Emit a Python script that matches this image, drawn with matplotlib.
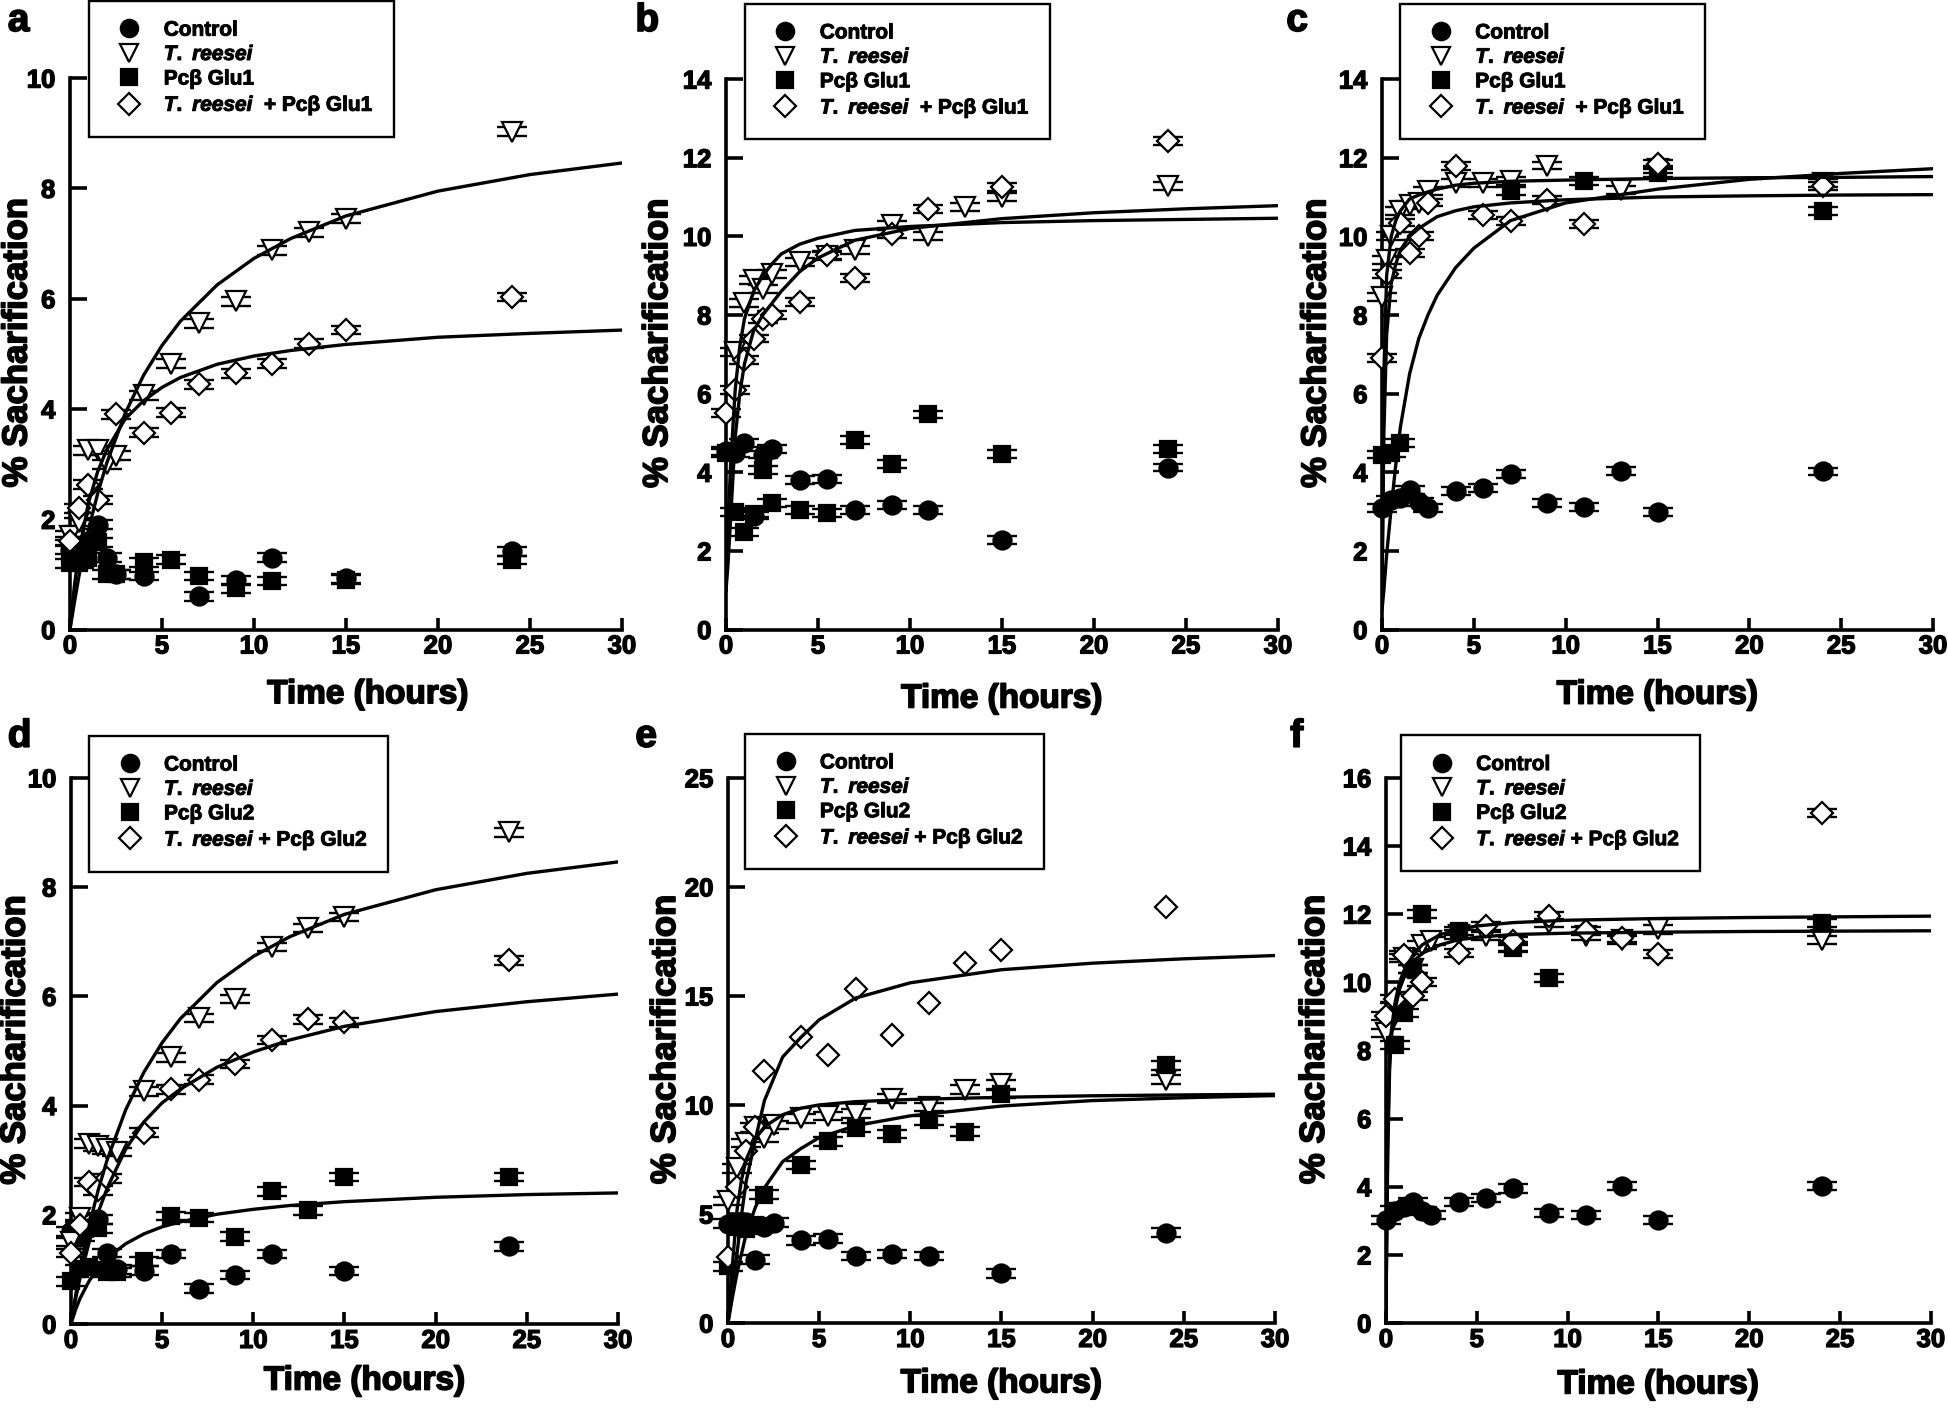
import matplotlib
matplotlib.use('Agg')
import matplotlib.pyplot as plt
import matplotlib.patheffects as pe
from matplotlib.lines import Line2D

plt.rcParams['font.family'] = ['Liberation Sans', 'DejaVu Sans']
plt.rcParams['font.weight'] = 'bold'
plt.rcParams['mathtext.fontset'] = 'custom'
plt.rcParams['mathtext.it'] = 'Liberation Sans:italic:bold'
plt.rcParams['mathtext.rm'] = 'Liberation Sans:bold'
plt.rcParams['mathtext.bf'] = 'Liberation Sans:bold'

# ---- panel a ----
a_ctrl_t = [0, 0.5, 1, 1.5, 2, 2.5, 4, 7, 9, 11, 15, 24]
a_ctrl_v = [1.45, 1.3, 1.6, 1.9, 1.3, 1.0, 0.97, 0.6, 0.89, 1.3, 0.93, 1.42]
a_tr_t = [0, 0.5, 1, 1.5, 2, 2.5, 4, 5.5, 7, 9, 11, 13, 15, 24]
a_tr_v = [1.7, 1.95, 3.25, 3.25, 3.0, 3.15, 4.25, 4.82, 5.55, 5.95, 6.88, 7.2, 7.45, 9.03]
a_glu_t = [0, 0.5, 1, 1.5, 2, 2.5, 4, 5.5, 7, 9, 11, 15, 24]
a_glu_v = [1.2, 1.2, 1.3, 1.58, 1.0, 1.0, 1.22, 1.27, 0.97, 0.75, 0.88, 0.9, 1.26]
a_mix_t = [0, 0.5, 1, 1.5, 2.5, 4, 5.5, 7, 9, 11, 13, 15, 24]
a_mix_v = [1.6, 2.2, 2.63, 2.35, 3.9, 3.57, 3.93, 4.45, 4.65, 4.82, 5.18, 5.43, 6.03]
ad_fit_t = [0, 0.25, 0.5, 1, 1.5, 2, 3, 4, 5, 6, 8, 10, 12, 15, 20, 25, 30]
a_fit_tr = [0, 0.51, 0.99, 1.8, 2.46, 3.02, 3.92, 4.61, 5.15, 5.59, 6.25, 6.73, 7.09, 7.5, 7.95, 8.25, 8.46]
a_fit_mix = [0, 0.82, 1.43, 2.29, 2.86, 3.26, 3.82, 4.15, 4.39, 4.57, 4.81, 4.96, 5.06, 5.17, 5.3, 5.37, 5.43]

# ---- panel b ----
b_ctrl_t = [0, 0.5, 1, 1.5, 2, 2.5, 4, 5.5, 7, 9, 11, 15, 24]
b_ctrl_v = [4.55, 4.5, 4.75, 2.9, 4.45, 4.6, 3.8, 3.82, 3.05, 3.17, 3.05, 2.28, 4.12]
b_tr_t = [0.5, 1, 1.5, 2, 2.5, 4, 5.5, 7, 9, 11, 13, 15, 24]
b_tr_v = [7.05, 8.3, 8.9, 8.65, 9.05, 9.35, 9.5, 9.65, 10.3, 10.0, 10.74, 11.0, 11.29]
b_glu_t = [0, 0.5, 1, 1.5, 2, 2.5, 4, 5.5, 7, 9, 11, 15, 24]
b_glu_v = [4.5, 3.0, 2.48, 2.95, 4.05, 3.22, 3.05, 2.97, 4.83, 4.2, 5.47, 4.47, 4.6]
b_mix_t = [0, 0.5, 1, 1.5, 2, 2.5, 4, 5.5, 7, 9, 11, 15, 24]
b_mix_v = [5.5, 6.1, 6.85, 7.4, 7.9, 8.0, 8.33, 9.52, 8.95, 10.05, 10.7, 11.25, 12.42]
b_fit_t = [0, 0.1, 0.25, 0.5, 0.75, 1, 1.5, 2, 2.5, 3, 4, 5, 7, 10, 15, 20, 25, 30]
b_fit_1 = [1.0, 2.5, 4.2, 6.1, 7.2, 7.9, 8.6, 9.0, 9.3, 9.55, 9.8, 9.95, 10.15, 10.25, 10.35, 10.4, 10.43, 10.46]
b_fit_2 = [1.0, 1.6, 2.8, 4.9, 6.0, 6.75, 7.6, 8.0, 8.3, 8.6, 9.1, 9.45, 9.9, 10.2, 10.45, 10.6, 10.7, 10.78]

# ---- panel c ----
c_ctrl_t = [0, 0.5, 1, 1.5, 2, 2.5, 4, 5.5, 7, 9, 11, 13, 15, 24]
c_ctrl_v = [3.1, 3.3, 3.35, 3.55, 3.25, 3.08, 3.52, 3.6, 3.95, 3.22, 3.11, 4.03, 3.0, 4.02]
c_tr_t = [0, 0.25, 0.5, 1, 1.5, 2, 2.5, 4, 5.5, 7, 9, 13, 15, 24]
c_tr_v = [8.45, 9.4, 10.0, 10.65, 10.8, 10.85, 11.15, 11.35, 11.35, 11.4, 11.8, 11.17, 11.7, 11.35]
c_glu_t = [0, 0.5, 1, 7, 11, 15, 24]
c_glu_v = [4.45, 4.5, 4.75, 11.15, 11.4, 11.6, 10.65]
c_mix_t = [0, 0.25, 1, 1.5, 2, 2.5, 4, 5.5, 7, 9, 11, 15, 24]
c_mix_v = [6.9, 9.05, 10.35, 9.57, 10.0, 10.86, 11.78, 10.55, 10.4, 10.92, 10.31, 11.85, 11.29]
c_fit_t = [0, 0.1, 0.25, 0.5, 0.75, 1, 1.5, 2, 2.5, 3, 4, 5, 7, 10, 15, 20, 25, 30]
c_fit_a = [1.0, 6.5, 9.0, 10.0, 10.4, 10.65, 10.95, 11.05, 11.13, 11.2, 11.3, 11.35, 11.4, 11.43, 11.47, 11.49, 11.5, 11.52]
c_fit_b = [1.0, 5.0, 7.5, 8.8, 9.3, 9.65, 10.0, 10.2, 10.35, 10.5, 10.65, 10.75, 10.85, 10.93, 11.0, 11.03, 11.05, 11.06]
c_fit_c = [0.5, 1.0, 1.9, 3.1, 4.2, 5.15, 6.5, 7.4, 8.0, 8.5, 9.2, 9.7, 10.4, 10.85, 11.2, 11.45, 11.6, 11.72]

# ---- panel d ----
d_ctrl_t = [0, 0.5, 1, 1.5, 2, 2.5, 4, 5.5, 7, 9, 11, 15, 24]
d_ctrl_v = [1.7, 1.6, 1.75, 1.92, 1.3, 1.0, 0.98, 1.28, 0.65, 0.9, 1.28, 0.97, 1.42]
d_tr_t = [0, 0.5, 1, 1.5, 2, 2.5, 4, 5.5, 7, 9, 11, 13, 15, 24]
d_tr_v = [1.5, 1.95, 3.3, 3.25, 3.2, 3.15, 4.26, 4.88, 5.6, 5.95, 6.9, 7.25, 7.45, 9.0]
d_glu_t = [0, 0.5, 1, 1.5, 2, 2.5, 4, 5.5, 7, 9, 11, 13, 15, 24]
d_glu_v = [0.78, 1.0, 1.05, 1.75, 0.95, 0.95, 1.15, 1.98, 1.95, 1.6, 2.43, 2.08, 2.69, 2.69]
d_mix_t = [0, 0.5, 1, 1.5, 2, 4, 5.5, 7, 9, 11, 13, 15, 24]
d_mix_v = [1.3, 1.82, 2.6, 2.45, 2.67, 3.5, 4.3, 4.47, 4.76, 5.2, 5.58, 5.52, 6.66]
d_fit_tr = [0, 0.51, 0.99, 1.8, 2.46, 3.02, 3.92, 4.61, 5.15, 5.59, 6.25, 6.73, 7.09, 7.5, 7.95, 8.25, 8.46]
d_fit_mix = [0, 0.45, 0.85, 1.5, 2.05, 2.5, 3.2, 3.7, 4.05, 4.3, 4.7, 4.98, 5.2, 5.45, 5.72, 5.9, 6.04]
d_fit_glu = [0, 0.26, 0.47, 0.79, 1.03, 1.21, 1.47, 1.65, 1.78, 1.87, 2.01, 2.1, 2.17, 2.24, 2.32, 2.37, 2.4]

# ---- panel e ----
e_ctrl_t = [0, 0.5, 1, 1.5, 2, 2.5, 4, 5.5, 7, 9, 11, 15, 24]
e_ctrl_v = [4.55, 4.55, 4.62, 2.9, 4.42, 4.6, 3.8, 3.86, 3.07, 3.17, 3.07, 2.28, 4.15]
e_tr_t = [0, 0.5, 1, 1.5, 2, 2.5, 4, 5.5, 7, 9, 11, 13, 15, 24]
e_tr_v = [5.6, 7.1, 8.25, 8.98, 8.5, 9.08, 9.39, 9.49, 9.6, 10.28, 9.9, 10.7, 10.95, 11.15]
e_glu_t = [0, 0.5, 1, 1.5, 2, 4, 5.5, 7, 9, 11, 13, 15, 24]
e_glu_v = [2.6, 4.4, 4.3, 4.5, 5.88, 7.25, 8.33, 8.95, 8.67, 9.29, 8.77, 10.5, 11.82]
e_mix_t = [0, 0.5, 1, 1.5, 2, 4, 5.5, 7, 9, 11, 13, 15, 24]
e_mix_v = [3.05, 6.25, 7.9, 9.0, 11.55, 13.12, 12.3, 15.3, 13.22, 14.68, 16.5, 17.1, 19.07]
e_fit_t = [0, 0.25, 0.5, 0.75, 1, 1.5, 2, 3, 4, 5, 7, 10, 15, 20, 25, 30]
e_fit_mix = [0, 1.5, 3.2, 5.0, 6.5, 8.4, 10.2, 12.2, 13.1, 13.9, 14.9, 15.6, 16.2, 16.5, 16.7, 16.85]
e_fit_tr = [0, 2.7, 5.2, 6.6, 7.5, 8.45, 9.0, 9.55, 9.85, 10.0, 10.15, 10.25, 10.35, 10.42, 10.46, 10.49]
e_fit_glu = [0, 1.2, 2.3, 3.2, 4.1, 5.3, 6.2, 7.4, 8.0, 8.5, 9.05, 9.5, 9.95, 10.2, 10.33, 10.43]

# ---- panel f ----
f_ctrl_t = [0, 0.5, 1, 1.5, 2, 2.5, 4, 5.5, 7, 9, 11, 13, 15, 24]
f_ctrl_v = [3.02, 3.3, 3.4, 3.55, 3.29, 3.16, 3.55, 3.66, 3.95, 3.22, 3.16, 4.02, 3.02, 4.02]
f_tr_t = [0, 0.5, 1, 1.5, 2, 2.5, 4, 5.5, 7, 9, 11, 13, 15, 24]
f_tr_v = [8.5, 9.3, 10.7, 10.4, 11.1, 11.2, 11.4, 11.35, 11.05, 11.75, 11.35, 11.25, 11.55, 11.25]
f_glu_t = [0.5, 1, 1.5, 2, 4, 7, 9, 24]
f_glu_v = [8.15, 9.1, 10.4, 12.0, 11.5, 11.0, 10.12, 11.75]
f_mix_t = [0, 0.5, 1, 1.5, 2, 4, 5.5, 7, 9, 11, 13, 15, 24]
f_mix_v = [9.0, 9.5, 10.8, 9.6, 10.0, 10.85, 11.65, 11.2, 11.95, 11.5, 11.3, 10.82, 14.96]
f_fit_t = [0, 0.05, 0.1, 0.2, 0.3, 0.5, 0.75, 1, 1.5, 2, 3, 4, 5, 7, 10, 15, 20, 25, 30]
f_fit_1 = [0.3, 3.0, 5.5, 7.8, 8.6, 9.4, 10.0, 10.35, 10.8, 11.1, 11.4, 11.55, 11.65, 11.75, 11.82, 11.87, 11.9, 11.92, 11.94]
f_fit_2 = [0.3, 2.6, 5.0, 7.4, 8.4, 9.2, 9.8, 10.15, 10.6, 10.85, 11.1, 11.25, 11.32, 11.4, 11.44, 11.47, 11.49, 11.5, 11.51]

# small SEM-like error bars per panel
err = {'a': 0.08, 'b': 0.1, 'c': 0.1, 'd': 0.08, 'e': 0.2, 'f': 0.12}
y_max = {'a': 10, 'b': 14, 'c': 14, 'd': 10, 'e': 25, 'f': 16}
y_step = {'a': 2, 'b': 2, 'c': 2, 'd': 2, 'e': 5, 'f': 2}

labels_1 = ['Control', r'$\mathit{T.\ reesei}$', 'Pcβ Glu1', r'$\mathit{T.\ reesei}$  + Pcβ Glu1']
labels_2 = ['Control', r'$\mathit{T.\ reesei}$', 'Pcβ Glu2', r'$\mathit{T.\ reesei}$ + Pcβ Glu2']

# marker styles: control, T. reesei, Pcb Glu, mix
styles = [('o', 'black', 13), ('v', 'white', 14), ('s', 'black', 12), ('D', 'white', 11.5)]

panels = {
    'a': dict(series=[(a_ctrl_t, a_ctrl_v), (a_tr_t, a_tr_v), (a_glu_t, a_glu_v), (a_mix_t, a_mix_v)],
              fit_t=ad_fit_t, fits=[a_fit_tr, a_fit_mix], labels=labels_1),
    'b': dict(series=[(b_ctrl_t, b_ctrl_v), (b_tr_t, b_tr_v), (b_glu_t, b_glu_v), (b_mix_t, b_mix_v)],
              fit_t=b_fit_t, fits=[b_fit_1, b_fit_2], labels=labels_1),
    'c': dict(series=[(c_ctrl_t, c_ctrl_v), (c_tr_t, c_tr_v), (c_glu_t, c_glu_v), (c_mix_t, c_mix_v)],
              fit_t=c_fit_t, fits=[c_fit_a, c_fit_b, c_fit_c], labels=labels_1),
    'd': dict(series=[(d_ctrl_t, d_ctrl_v), (d_tr_t, d_tr_v), (d_glu_t, d_glu_v), (d_mix_t, d_mix_v)],
              fit_t=ad_fit_t, fits=[d_fit_tr, d_fit_mix, d_fit_glu], labels=labels_2),
    'e': dict(series=[(e_ctrl_t, e_ctrl_v), (e_tr_t, e_tr_v), (e_glu_t, e_glu_v), (e_mix_t, e_mix_v)],
              fit_t=e_fit_t, fits=[e_fit_mix, e_fit_tr, e_fit_glu], labels=labels_2),
    'f': dict(series=[(f_ctrl_t, f_ctrl_v), (f_tr_t, f_tr_v), (f_glu_t, f_glu_v), (f_mix_t, f_mix_v)],
              fit_t=f_fit_t, fits=[f_fit_1, f_fit_2], labels=labels_2),
}

# layout (figure fractions), legend anchors and label positions (axes fractions)
rects = {'a': [0.0359, 0.5532, 0.2832, 0.3914], 'b': [0.3725, 0.5532, 0.2832, 0.3907],
         'c': [0.7091, 0.5532, 0.2827, 0.3907], 'd': [0.0364, 0.0603, 0.2807, 0.3877],
         'e': [0.3735, 0.0610, 0.2807, 0.3870], 'f': [0.7111, 0.0610, 0.2796, 0.3870]}
leg_anchor = {'a': (0.034, 1.14), 'b': (0.034, 1.137), 'c': (0.033, 1.137),
              'd': (0.033, 1.077), 'e': (0.031, 1.081), 'f': (0.028, 1.078)}
ylab_x = {'a': -0.066, 'b': -0.094, 'c': -0.090, 'd': -0.072, 'e': -0.084, 'f': -0.101}
xlab = {'a': (0.54, -0.09), 'b': (0.5, -0.098), 'c': (0.5, -0.091),
        'd': (0.537, -0.076), 'e': (0.5, -0.083), 'f': (0.5, -0.085)}
letter_pos = {'a': (0.004, 0.978), 'b': (0.326, 0.978), 'c': (0.660, 0.978),
              'd': (0.004, 0.470), 'e': (0.326, 0.470), 'f': (0.662, 0.470)}


def heavy(w):
    return [pe.withStroke(linewidth=w, foreground='black')]


fig = plt.figure(figsize=(19.49, 14.09), dpi=100)

for key, p in panels.items():
    ax = fig.add_axes(rects[key])
    for i, (t, v) in enumerate(p['series']):
        mk, face, ms = styles[i]
        e = err[key]
        if key == 'e' and i == 3:
            e = 0
        if e > 0:
            eb = ax.errorbar(t, v, yerr=e, fmt='none', ecolor='black', elinewidth=1.5,
                             capsize=10.5, capthick=1.7, zorder=2)
            for art in list(eb.lines[1]) + list(eb.lines[2]):
                art.set_clip_on(False)
        ax.plot(t, v, linestyle='none', marker=mk, markersize=ms, markerfacecolor=face,
                markeredgecolor='black', markeredgewidth=1.6, clip_on=False, zorder=3)
    for fv in p['fits']:
        ax.plot(p['fit_t'], fv, color='black', linewidth=2.4, zorder=4)

    ax.set_xlim(0, 30)
    ax.set_ylim(0, y_max[key])
    ax.set_xticks(range(0, 31, 5))
    ax.set_yticks(range(0, y_max[key] + 1, y_step[key]))
    ax.spines['top'].set_visible(False)
    ax.spines['right'].set_visible(False)
    for s in ('left', 'bottom'):
        ax.spines[s].set_linewidth(2.6)
    ax.tick_params(axis='x', direction='in', length=8.6, width=2.6, pad=3.5, labelsize=18.5)
    ax.tick_params(axis='y', direction='in', length=12, width=2.6, pad=10.5, labelsize=18.5)
    for lbl in ax.get_xticklabels() + ax.get_yticklabels():
        lbl.set_path_effects(heavy(1.0))

    ax.set_ylabel('% Sacharification', fontsize=25, fontweight='bold')
    ax.yaxis.set_label_coords(ylab_x[key], 0.52)
    ax.yaxis.label.set_path_effects(heavy(1.2))
    ax.set_xlabel('Time (hours)', fontsize=24, fontweight='bold')
    ax.xaxis.set_label_coords(*xlab[key])
    ax.xaxis.label.set_path_effects(heavy(1.2))

    handles = [Line2D([], [], linestyle='none', marker=m, markersize=s - 0.5, markerfacecolor=f,
                      markeredgecolor='black', markeredgewidth=1.6) for m, f, s in styles]
    leg = ax.legend(handles, p['labels'], loc='upper left', bbox_to_anchor=leg_anchor[key],
                    borderaxespad=0, frameon=True, fancybox=False, framealpha=1,
                    edgecolor='black', prop={'size': 15, 'weight': 'bold'},
                    borderpad=0.95, handlelength=2.0, handletextpad=0.65, labelspacing=0.26)
    leg.get_frame().set_linewidth(1.7)
    leg.set_zorder(10)
    for txt in leg.get_texts():
        txt.set_path_effects(heavy(0.7))

    fig.text(letter_pos[key][0], letter_pos[key][1], key, fontsize=28, fontweight='bold',
             va='baseline', ha='left', path_effects=heavy(1.2))

fig.savefig('out.png', dpi=100)
